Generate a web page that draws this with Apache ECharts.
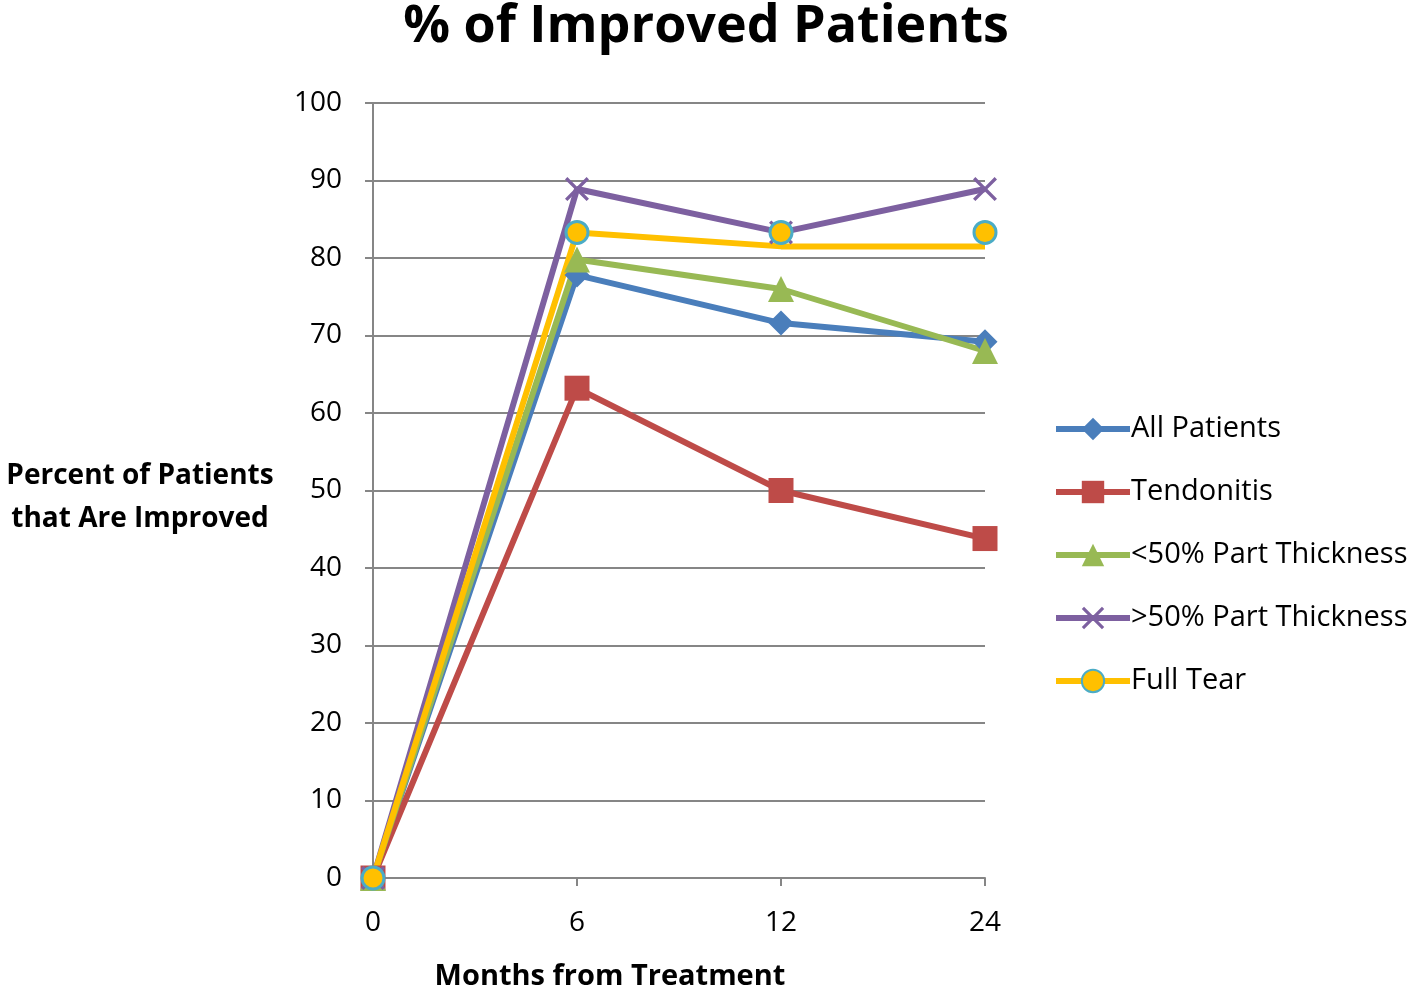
<!DOCTYPE html>
<html><head><meta charset="utf-8">
<script src="https://cdn.jsdelivr.net/npm/echarts@6/dist/echarts.min.js"></script>
<style>html,body{margin:0;padding:0;background:#fff}#c{width:1418px;height:987px}</style>
</head><body><div id="c"></div>
<script>
const months = ['0', '6', '12', '24'];
const yTicks = [0, 10, 20, 30, 40, 50, 60, 70, 80, 90, 100];
const allPatients = [0, 77.8, 71.6, 69.2];
const tendonitis = [0, 63.2, 50.0, 43.8];
const under50 = [0, 79.8, 76.0, 68.0];
const over50 = [0, 88.9, 83.3, 88.9];
const fullTearLine = [0, 83.3, 81.5, 81.5];
const fullTearMarkers = [0, 83.3, 83.3, 83.3];
const names = ['All Patients', 'Tendonitis', '<50% Part Thickness', '>50% Part Thickness', 'Full Tear'];

const FONT = '"Open Sans", sans-serif';
const crossPath = 'path://M0,1 L1,0 L5,4 L9,0 L10,1 L6,5 L10,9 L9,10 L5,6 L1,10 L0,9 L4,5 Z';

function lineSeries(name, data, color, symbol, size, extra) {
  return Object.assign({
    name: name, type: 'line', data: data,
    symbol: symbol, symbolSize: size, showAllSymbol: true,
    lineStyle: { color: color, width: 6 },
    itemStyle: { color: color },
    z: 2
  }, extra || {});
}

const chart = echarts.init(document.getElementById('c'), null, { renderer: 'canvas' });
chart.setOption({
  animation: false,
  backgroundColor: '#fff',
  title: [
    { text: '% of Improved Patients', left: 701, top: -4, textAlign: 'center',
      textStyle: { fontFamily: FONT, fontWeight: 'bold', fontSize: 52, color: '#000' } },
    { text: 'Percent of Patients\nthat Are Improved', left: 135, top: 450, textAlign: 'center',
      textStyle: { fontFamily: FONT, fontWeight: 'bold', fontSize: 28, lineHeight: 43, color: '#000' } },
    { text: 'Months from Treatment', left: 605, top: 957, textAlign: 'center',
      textStyle: { fontFamily: FONT, fontWeight: 'bold', fontSize: 29, color: '#000' } }
  ],
  legend: {
    orient: 'vertical', left: 1053, top: 413, padding: 0,
    data: names,
    itemWidth: 74, itemHeight: 28, itemGap: 31,
    lineStyle: { width: 6 },
    textStyle: { fontFamily: FONT, fontSize: 29, color: '#000', padding: [2, 0, 0, -4], lineHeight: 30 }
  },
  grid: { left: 373, right: 433, top: 103, bottom: 109, containLabel: false },
  xAxis: {
    type: 'category', data: months, boundaryGap: false,
    axisLine: { lineStyle: { color: '#868686', width: 2 } },
    axisTick: { show: true, length: 8, lineStyle: { color: '#868686', width: 2 } },
    axisLabel: { fontFamily: FONT, fontSize: 28, color: '#000', margin: 31 },
    splitLine: { show: false }
  },
  yAxis: {
    type: 'value', min: yTicks[0], max: yTicks[yTicks.length - 1], interval: 10,
    axisLine: { show: true, lineStyle: { color: '#868686', width: 2 } },
    axisTick: { show: true, length: 8, lineStyle: { color: '#868686', width: 2 } },
    axisLabel: { fontFamily: FONT, fontSize: 28, color: '#000', margin: 31 },
    splitLine: { lineStyle: { color: '#868686', width: 2 } }
  },
  series: [
    lineSeries(names[0], allPatients, '#4A7EBB', 'diamond', 25),
    lineSeries(names[1], tendonitis, '#BE4B48', 'rect', 25),
    lineSeries(names[2], under50, '#98B954', 'triangle', 26),
    lineSeries(names[3], over50, '#7D60A0', crossPath, 24),
    lineSeries(names[4], fullTearLine.map((v, i) => i >= 2 ? { value: v, symbolSize: 0 } : v), '#FFC000', 'circle', 22,
      { itemStyle: { color: '#FFC000', borderColor: '#4BACC6', borderWidth: 3 } }),
    { name: 'Full Tear markers', type: 'line', data: fullTearMarkers.map((v, i) => i >= 2 ? v : '-'),
      symbol: 'circle', symbolSize: 22, lineStyle: { width: 0, opacity: 0 },
      itemStyle: { color: '#FFC000', borderColor: '#4BACC6', borderWidth: 3 }, z: 3 }
  ]
});
</script></body></html>
